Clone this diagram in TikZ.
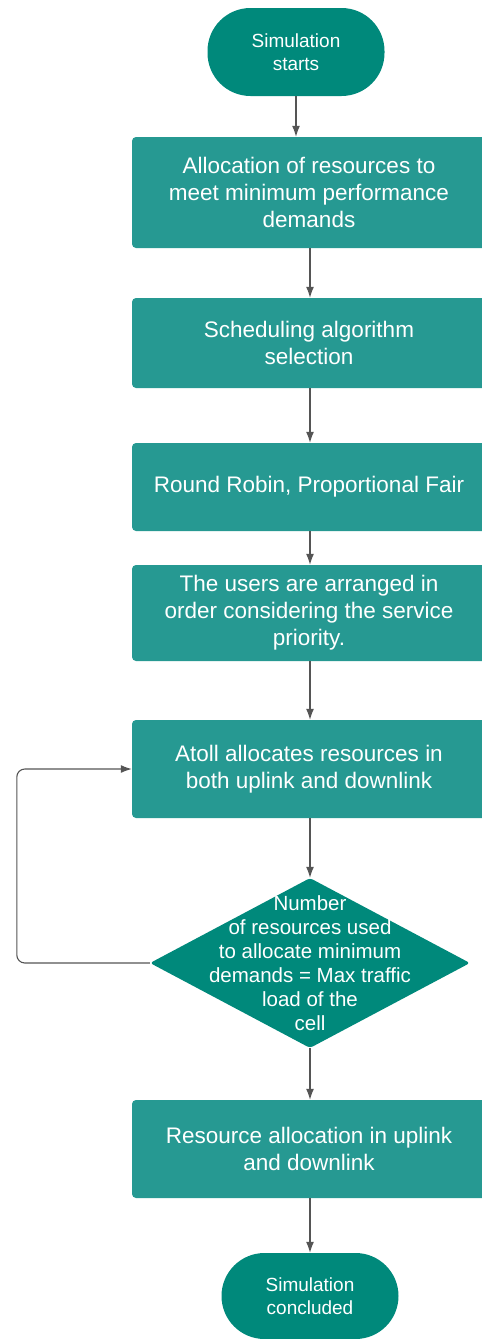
\documentclass[tikz,border=0pt]{standalone}
\usepackage{fontspec}
\setmainfont{Liberation Sans}
\usetikzlibrary{shapes.geometric,arrows.meta}
\definecolor{termteal}{RGB}{0,137,123}
\definecolor{boxteal}{RGB}{38,153,146}
\definecolor{flowgray}{RGB}{85,85,85}

\begin{document}
\begin{tikzpicture}[x=1pt,y=-1pt,
   every node/.style={text=white, align=center, inner sep=0pt},
   term/.style={fill=termteal, rounded corners=43pt, minimum width=177pt,
                minimum height=88pt, font=\fontsize{19}{23}\selectfont},
   stepbox/.style={fill=boxteal, rounded corners=4pt, minimum width=354pt,
                   font=\fontsize{22.5}{27}\selectfont},
   decision/.style={diamond, fill=termteal, aspect=1.88, minimum width=320pt,
                    minimum height=170pt, rounded corners=3pt},
   flow/.style={draw=flowgray, line width=1.1pt,
                -{Latex[length=11pt,width=8pt]}}]
   \useasboundingbox (0,0) rectangle (482,1339);
   \node[term] (start) at (296,52) {Simulation\\starts};
   \node[stepbox, minimum height=111pt] (alloc) at (309,192.5)
      {Allocation of resources to\\meet minimum performance\\demands};
   \node[stepbox, minimum height=90pt] (sched) at (309,343)
      {Scheduling algorithm\\selection};
   \node[stepbox, minimum height=88pt] (algo) at (309,487)
      {Round Robin, Proportional Fair};
   \node[stepbox, minimum height=96pt] (order) at (309,613)
      {The users are arranged in\\order considering the service\\priority.};
   \node[stepbox, minimum height=98pt] (atoll) at (309,769)
      {Atoll allocates resources in\\both uplink and downlink};
   \node[decision] (check) at (310,963) {};
   \node[font=\fontsize{20.5}{24}\selectfont] at (check)
      {Number\\of resources used\\to allocate minimum\\demands = Max traffic\\load of the\\cell};
   \node[stepbox, minimum height=98pt] (final) at (309,1149)
      {Resource allocation in uplink\\and downlink};
   \node[term, minimum height=86pt] (stop) at (310,1296) {Simulation\\concluded};
   \draw[flow] (start) -- (start |- alloc.north);
   \draw[flow] (alloc.south -| 310,0) -- (sched.north -| 310,0);
   \draw[flow] (sched.south -| 310,0) -- (algo.north -| 310,0);
   \draw[flow] (algo.south -| 310,0) -- (order.north -| 310,0);
   \draw[flow] (order.south -| 310,0) -- (atoll.north -| 310,0);
   \draw[flow] (atoll.south -| 310,0) -- (check.north);
   \draw[flow, rounded corners=8pt] (check.west) -- ++(-133,0) |- (atoll.west);
   \draw[flow] (check.south) -- (final.north -| check.south);
   \draw[flow] (final.south -| 310,0) -- (stop.north);
\end{tikzpicture}
\end{document}
